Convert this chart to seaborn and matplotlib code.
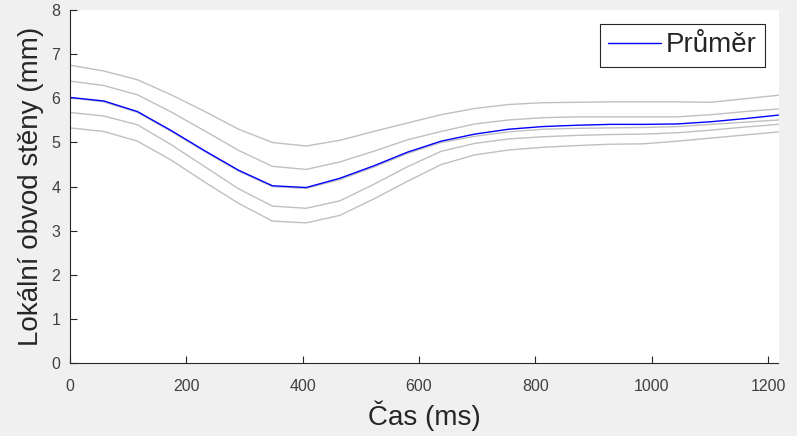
import matplotlib
matplotlib.use("Agg")
import matplotlib.pyplot as plt
import numpy as np
import pandas as pd
import seaborn as sns

# Time axis (ms), one sample per frame
cas = [0, 58, 116, 174, 232, 290, 348, 406, 464, 522, 580, 638,
       696, 754, 812, 870, 928, 986, 1044, 1102, 1160, 1218]

# Mean local wall thickness (mm)
prumer = [6.02, 5.94, 5.70, 5.27, 4.81, 4.37, 4.02, 3.98, 4.19, 4.47, 4.78, 5.03,
          5.19, 5.30, 5.36, 5.39, 5.41, 5.41, 5.42, 5.47, 5.54, 5.62]

# Surrounding envelope curves (mm)
horni_2 = [6.75, 6.62, 6.42, 6.08, 5.70, 5.30, 5.00, 4.92, 5.05, 5.25, 5.44, 5.63,
           5.77, 5.86, 5.90, 5.91, 5.92, 5.92, 5.92, 5.91, 5.99, 6.07]
horni_1 = [6.39, 6.29, 6.08, 5.69, 5.26, 4.82, 4.46, 4.39, 4.56, 4.80, 5.06, 5.25,
           5.42, 5.51, 5.56, 5.58, 5.58, 5.58, 5.58, 5.63, 5.70, 5.76]
stred = [6.01, 5.92, 5.68, 5.25, 4.79, 4.35, 4.00, 3.96, 4.16, 4.44, 4.75, 5.00,
         5.14, 5.24, 5.30, 5.32, 5.33, 5.34, 5.36, 5.41, 5.46, 5.51]
dolni_1 = [5.68, 5.60, 5.40, 4.95, 4.45, 3.95, 3.56, 3.51, 3.68, 4.05, 4.45, 4.80,
           4.98, 5.08, 5.13, 5.16, 5.18, 5.19, 5.22, 5.28, 5.35, 5.41]
dolni_2 = [5.33, 5.25, 5.03, 4.60, 4.10, 3.62, 3.22, 3.18, 3.35, 3.72, 4.12, 4.50,
           4.72, 4.83, 4.89, 4.93, 4.96, 4.97, 5.03, 5.10, 5.17, 5.24]

sns.set_theme(style="white")
plt.rcParams["font.family"] = ["Liberation Sans", "DejaVu Sans"]

fig = plt.figure(figsize=(7.97, 4.36), dpi=100, facecolor="#f0f0f0")
ax = fig.add_axes([70 / 797, 1 - 363.3 / 436, 708.5 / 797, 353.3 / 436])
ax.set_facecolor("white")

seda = "#c0c0c0"
for krivka in (horni_2, horni_1, stred, dolni_1, dolni_2):
    sns.lineplot(x=cas, y=krivka, ax=ax, color=seda, linewidth=1.0, legend=False)

df = pd.DataFrame({"cas": cas, "prumer": prumer})
sns.lineplot(data=df, x="cas", y="prumer", ax=ax, color="#0000ff", linewidth=1.0,
             label="Průměr")

ax.set_xlim(0, 1218)
ax.set_ylim(0, 8)
ax.set_xticks(np.arange(0, 1201, 200))
ax.set_yticks(np.arange(0, 9, 1))

for side in ("top", "right"):
    ax.spines[side].set_visible(False)
for side in ("left", "bottom"):
    ax.spines[side].set_color("#262626")
    ax.spines[side].set_linewidth(0.8)

ax.tick_params(axis="both", direction="in", length=5, width=0.8, colors="#262626",
               labelsize=11.5, labelcolor="#404040", left=True, bottom=True)
ax.tick_params(axis="x", pad=11)
ax.tick_params(axis="y", pad=7)

ax.set_xlabel("Čas (ms)", fontsize=20, color="#262626", labelpad=5)
ax.set_ylabel("Lokální obvod stěny (mm)", fontsize=20, color="#262626", labelpad=5)

leg = ax.legend(loc="upper right", fontsize=20, frameon=True, fancybox=False,
                handlelength=1.9, handletextpad=0.15, borderpad=0.3,
                borderaxespad=0.5, labelcolor="#262626")
leg.get_frame().set_edgecolor("#262626")
leg.get_frame().set_linewidth(0.8)
leg.get_frame().set_facecolor("white")
leg.get_frame().set_alpha(1.0)

fig.savefig("out.png", dpi=100, facecolor=fig.get_facecolor())
